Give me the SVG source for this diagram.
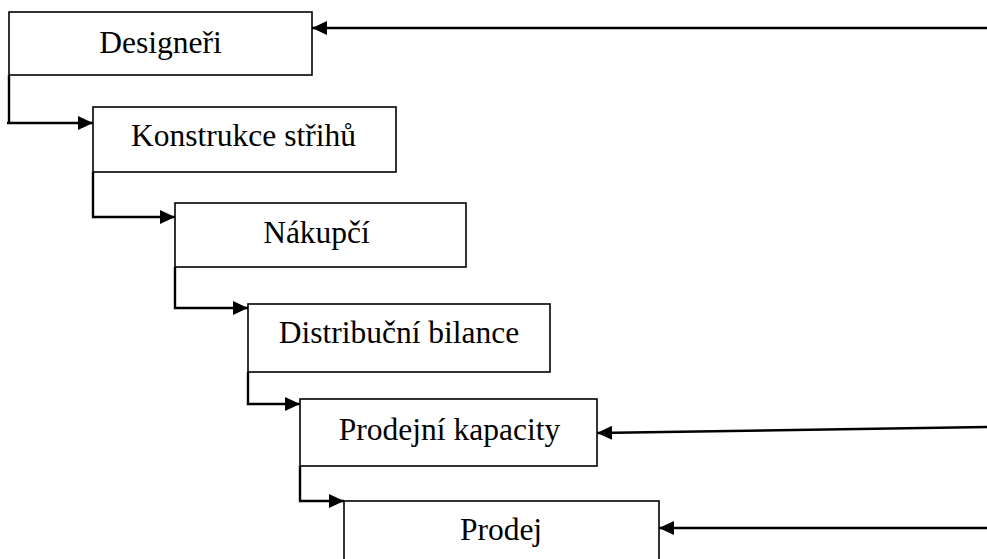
<svg xmlns="http://www.w3.org/2000/svg" width="987" height="559" viewBox="0 0 987 559">
<style>
.box{fill:#fff;stroke:#000;stroke-width:1.6}
.lbl{font-family:"Liberation Serif","Times New Roman",serif;font-size:31.5px;fill:#000;text-anchor:middle}
.con{fill:none;stroke:#000;stroke-width:2.4}
</style>
<defs>
<marker id="ah" markerWidth="16" markerHeight="14" refX="15" refY="7" orient="auto" markerUnits="userSpaceOnUse">
<path d="M0,0 L15,7 L0,14 Z" fill="#000"/>
</marker>
</defs>
<rect width="987" height="559" fill="#fff"/>
<g id="n1"><rect class="box" x="9" y="12" width="303" height="63"/><text class="lbl" x="160.5" y="53">Designeři</text></g>
<g id="n2"><rect class="box" x="93" y="107" width="303" height="65"/><text class="lbl" x="243.5" y="146">Konstrukce střihů</text></g>
<g id="n3"><rect class="box" x="175" y="203" width="291" height="64"/><text class="lbl" x="316.5" y="243">Nákupčí</text></g>
<g id="n4"><rect class="box" x="248" y="304" width="302" height="68"/><text class="lbl" x="399" y="343">Distribuční bilance</text></g>
<g id="n5"><rect class="box" x="300" y="399" width="297" height="67"/><text class="lbl" x="449.5" y="440">Prodejní kapacity</text></g>
<g id="n6"><rect class="box" x="344" y="501" width="315" height="70"/><text class="lbl" x="501" y="540">Prodej</text></g>
<g id="connectors">
<path class="con" d="M9,75 V123 M7,123 H93" marker-end="url(#ah)"/>
<path class="con" d="M93,172 V217 H175" marker-end="url(#ah)"/>
<path class="con" d="M175,267 V308 H248" marker-end="url(#ah)"/>
<path class="con" d="M248,372 V404 H300" marker-end="url(#ah)"/>
<path class="con" d="M300,466 V501 H344" marker-end="url(#ah)"/>
<path class="con" d="M987,28 H312" marker-end="url(#ah)"/>
<path class="con" d="M987,427 L597,433" marker-end="url(#ah)"/>
<path class="con" d="M987,528 H659" marker-end="url(#ah)"/>
</g>
</svg>
